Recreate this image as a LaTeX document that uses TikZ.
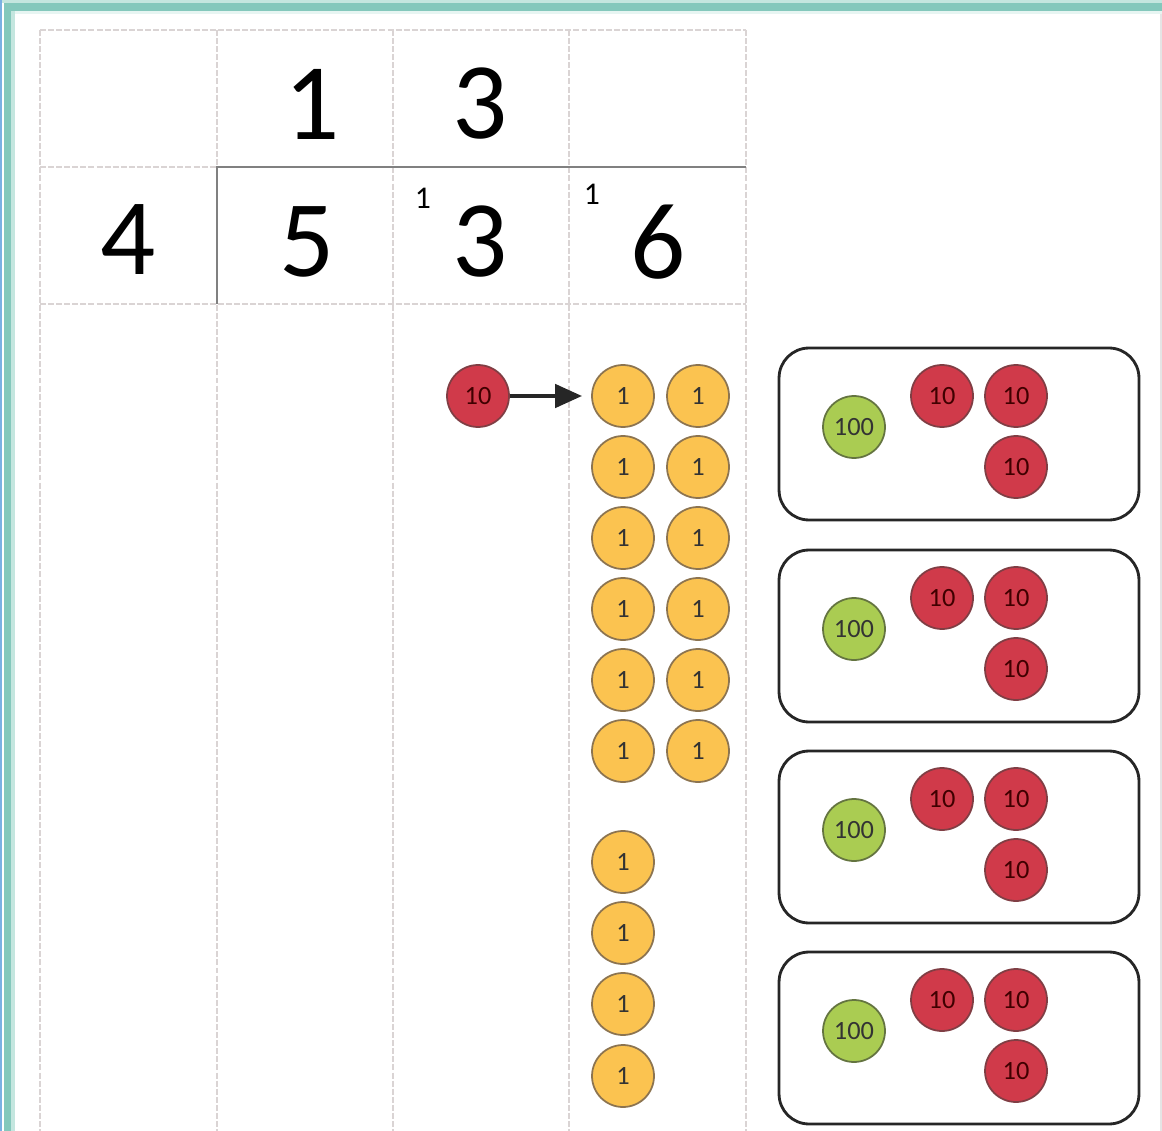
\documentclass[tikz,border=0pt]{standalone}
\usepackage{fontspec}
\setmainfont{Carlito}
\usepackage{tikz}
\usetikzlibrary{arrows.meta, positioning}
\definecolor{frameteal}{RGB}{132,200,188}
\definecolor{framelight}{RGB}{196,230,223}
\definecolor{frameblue}{RGB}{122,176,226}
\definecolor{gridgray}{RGB}{218,212,212}
\definecolor{tenred}{RGB}{208,58,74}
\definecolor{tenedge}{RGB}{128,62,68}
\definecolor{oneyellow}{RGB}{251,195,80}
\definecolor{oneedge}{RGB}{140,116,80}
\definecolor{hundgreen}{RGB}{170,204,82}
\definecolor{hundedge}{RGB}{100,116,64}

\begin{document}
\begin{tikzpicture}[x=0.02cm, y=-0.02cm,
  grid/.style={gridgray, dash pattern=on 3.4pt off 1.2pt, line width=1pt},
  bar/.style={black!50, line width=1.1pt},
  digit/.style={font=\fontsize{62}{62}\selectfont, inner sep=0pt},
  carry/.style={font=\fontsize{18}{18}\selectfont, inner sep=0pt},
  counter/.style={circle, minimum size=1.24cm, inner sep=0pt,
                  line width=1pt, font=\fontsize{15}{15}\selectfont},
  ten/.style={counter, fill=tenred, draw=tenedge, text=black!75!red},
  one/.style={counter, fill=oneyellow, draw=oneedge, text=black!80},
  hundred/.style={counter, fill=hundgreen, draw=hundedge, text=black!80},
  group/.style={draw=black!85, line width=1.6pt, rounded corners=0.6cm,
                minimum width=7.2cm, minimum height=3.44cm, inner sep=0pt},
  move/.style={-{Triangle[length=0.54cm, width=0.46cm]}, black!85,
               line width=2.6pt, shorten >=0.18cm}
]
  \useasboundingbox (0,0) rectangle (1162,1131);

  % --- Frame ---
  \fill[frameblue] (0,0) rectangle (1.5,1131);
  \fill[framelight] (2,0) rectangle (1162,3);
  \fill[frameteal] (4,3) rectangle (1162,11);
  \fill[frameteal] (4,3) rectangle (11,1131);
  \fill[framelight] (11,11) rectangle (15,1131);
  \fill[framelight!40] (15,11) rectangle (1162,14);
  \draw[black!10, line width=0.6pt] (1161,14) -- (1161,1131);

  % --- Grid ---
  \foreach \gx in {40,217,393,569,746}
    \draw[grid] (\gx,30) -- (\gx,1131);
  \foreach \gy in {30,167,304}
    \draw[grid] (40,\gy) -- (746,\gy);
  \draw[bar] (746,167) -- (217,167) -- (217,304);

  % --- Digits ---
  \node[digit] (q1) at (312,104) {1};
  \node[digit] (q2) at (480,104) {3};
  \node[digit] (dv) at (128,240) {4};
  \node[digit] (n1) at (307,242) {5};
  \node[digit] (n2) at (480,242) {3};
  \node[digit] (n3) at (658,242) {6};
  \node[carry] (c2) at (423,198) {1};
  \node[carry] (c3) at (592,194) {1};

  % --- Counters ---
  \node[ten] (t) at (478,396) {10};
  \foreach \ry [count=\i] in {396,467,538,609,680,751} {
    \node[one] (a\i) at (623,\ry) {1};
    \node[one] (b\i) at (698,\ry) {1};
  }
  \foreach \ry [count=\i] in {862,933,1004,1076}
    \node[one] (s\i) at (623,\ry) {1};

  % exchange 10 -> ones
  \draw[move] (t) -- (a1);

  % --- Groups of 130 ---
  \foreach \gy [count=\k] in {348,550,751,952} {
    \node[group] (g\k) at (959,\gy+86) {};
    \node[hundred] (h\k) at (854,\gy+79) {100};
    \node[ten] (u\k) at (942,\gy+48) {10};
    \node[ten] (v\k) at (1016,\gy+48) {10};
    \node[ten] (w\k) at (1016,\gy+119) {10};
  }
\end{tikzpicture}
\end{document}
